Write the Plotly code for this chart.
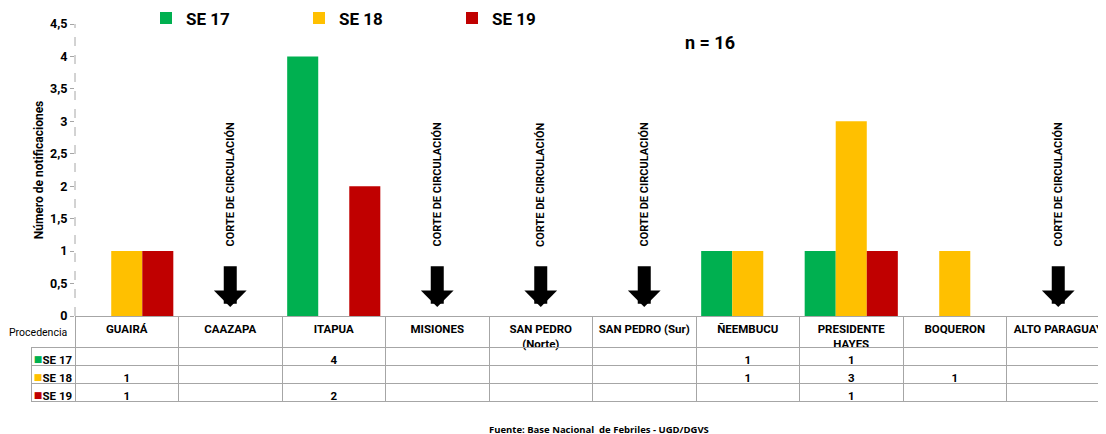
import plotly.graph_objects as go

# ---- data
categories = ["GUAIRÁ", "CAAZAPA", "ITAPUA", "MISIONES", "SAN PEDRO<br>(Norte)",
              "SAN PEDRO (Sur)", "ÑEEMBUCU", "PRESIDENTE<br>HAYES", "BOQUERON", "ALTO PARAGUAY"]
se_17 = [None, None, 4, None, None, None, 1, 1, None, None]
se_18 = [1, None, None, None, None, None, 1, 3, 1, None]
se_19 = [1, None, 2, None, None, None, None, 1, None, None]
cortes = ["CAAZAPA", "MISIONES", "SAN PEDRO<br>(Norte)", "SAN PEDRO (Sur)", "ALTO PARAGUAY"]
y_ticks = [0, 0.5, 1, 1.5, 2, 2.5, 3, 3.5, 4, 4.5]

series = [("SE 17", se_17, "#00b050"), ("SE 18", se_18, "#ffc000"), ("SE 19", se_19, "#c00000")]

FONT = "Roboto"
GRID = "#a6a6a6"
CLEAR = "rgba(0,0,0,0)"

# the page puts the figure 8px in from the top-left corner
OFF = 8
W, H = 1102, 426
ML, MR, MT, MB = 23, 0, 16, 32
plot_left = 75 - OFF
plot_bottom = 316 - OFF
pw = W - ML - MR
ph = H - MT - MB
x0 = (plot_left - ML) / pw
y0 = (H - MB - plot_bottom) / ph


def px(x):  # screen x -> paper
    return (x - OFF - ML) / pw


def py(y):  # screen y -> paper
    return (H - MB - (y - OFF)) / ph


NB = "\u00a0"  # keep table texts from wrapping at spaces


def nb(s):
    return s.replace(" ", NB)


fig = go.Figure()

for name, vals, col in series:
    fig.add_trace(go.Bar(x=categories, y=vals, name=name, marker=dict(color=col, line=dict(width=0))))

# table under the bars (plain text so rows keep their height);
# the province names in its header row are the x axis tick labels
def fmt(v):
    return "" if v is None else str(v)

row_labels = [NB * 3 + nb(n) for n, _, c in series]
cols = [row_labels] + [[fmt(s[1][i]) for s in series] for i in range(len(categories))]
col_w = [plot_left - ML] + [(W - MR - plot_left) / len(categories)] * len(categories)

fig.add_trace(go.Table(
    domain=dict(x=[0, 1], y=[0, y0]),
    columnwidth=col_w,
    header=dict(values=[""] * (len(categories) + 1), height=31,
                line=dict(color=[CLEAR] + [GRID] * len(categories), width=1),
                fill=dict(color=CLEAR)),
    cells=dict(values=cols, height=18, align="center",
               line=dict(color=GRID, width=1),
               fill=dict(color=CLEAR),
               font=dict(family=FONT, size=11.5, color="black", weight="bold")),
))

# coloured keys in front of the row labels
fig.add_trace(go.Table(
    domain=dict(x=[0, px(45)], y=[0, y0]),
    header=dict(values=[""], height=31, line=dict(color=CLEAR, width=0), fill=dict(color=CLEAR)),
    cells=dict(values=[["■"] * len(series)], height=18, align="center",
               line=dict(color=CLEAR, width=0), fill=dict(color=CLEAR),
               font=dict(family="DejaVu Sans", size=9, color=[[c for _, _, c in series]])),
))

annotations = []
for c in cortes:
    annotations.append(dict(x=c, y=0.14, ax=c, ay=0.79, xref="x", yref="y", axref="x", ayref="y",
                            text="", showarrow=True, arrowhead=1, arrowwidth=13, arrowsize=0.42,
                            arrowcolor="black"))
    annotations.append(dict(x=c, y=2.03, xref="x", yref="y", text="<b>CORTE DE CIRCULACIÓN</b>",
                            textangle=-90, showarrow=False,
                            font=dict(family=FONT, size=11, color="black")))

annotations.append(dict(x=px(710), y=py(42), xref="paper", yref="paper", yanchor="middle",
                        text="<b>n = 16</b>", showarrow=False,
                        font=dict(family=FONT, size=18, color="black")))
annotations.append(dict(x=px(69), y=py(332), xref="paper", yref="paper",
                        xanchor="right", yanchor="middle", text="Procedencia", showarrow=False,
                        font=dict(family=FONT, size=10.5, color="black")))
annotations.append(dict(x=px(599), y=py(430), xref="paper", yref="paper", yanchor="middle",
                        text="<b><u>Fuente</u>: Base Nacional  de Febriles - UGD/DGVS</b>",
                        showarrow=False, font=dict(family="Open Sans", size=9.5, color="black")))

fig.update_layout(
    width=W, height=H,
    margin=dict(l=ML, r=MR, t=MT, b=MB, autoexpand=False),
    paper_bgcolor="white", plot_bgcolor="white",
    barmode="group", bargap=0.1, bargroupgap=0,
    separators=", ",
    font=dict(family=FONT, color="black"),
    showlegend=True,
    legend=dict(orientation="h", x=px(146), y=py(18.5),
                xanchor="left", yanchor="middle", entrywidth=108, entrywidthmode="pixels",
                itemwidth=30, font=dict(family=FONT, size=17, color="black", weight="bold")),
    annotations=annotations,
    shapes=[dict(type="line", xref="x domain", yref="y domain", x0=0, x1=0, y0=0, y1=1,
                 line=dict(color=GRID, width=1, dash="dash"))],
    xaxis=dict(domain=[x0, 1], showticklabels=True, ticks="", ticklabelstandoff=2,
               tickangle=0, showline=True, linecolor=GRID, showgrid=False, fixedrange=True,
               tickfont=dict(family=FONT, size=11.5, color="black", weight="bold")),
    yaxis=dict(domain=[y0, 1], range=[0, 4.5], tickvals=y_ticks, ticks="outside",
               ticklen=4, tickcolor=GRID, showgrid=False, zeroline=False, showline=False,
               tickfont=dict(family=FONT, size=12.5, color="black", weight="bold"),
               title=dict(text="<b>Número de notificaciones</b>", standoff=3,
                          font=dict(family=FONT, size=12, color="black"))),
)

fig.write_html("out.html")
